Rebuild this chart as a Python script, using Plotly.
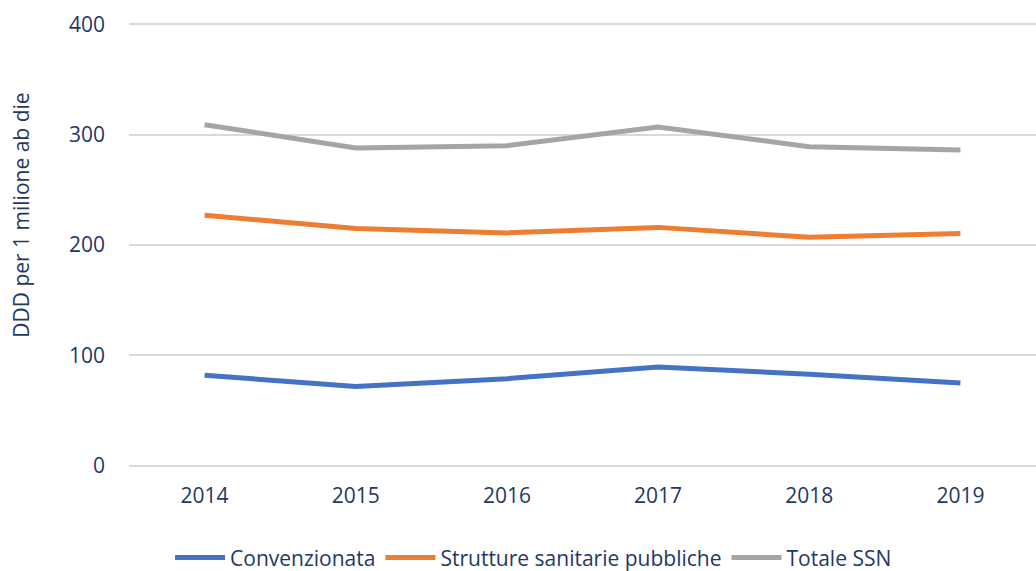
import plotly.graph_objects as go

# Data
years = ["2014", "2015", "2016", "2017", "2018", "2019"]
convenzionata = [82, 72, 79, 89.5, 83, 75]
strutture = [227, 215, 211, 216, 207, 210.5]
totale_ssn = [309, 288, 290, 307, 289, 286]

series_names = ["Convenzionata", "Strutture sanitarie pubbliche", "Totale SSN"]
series_colors = ["#4472C4", "#ED7D31", "#A5A5A5"]
y_title = "DDD per 1 milione ab die"

text_color = "#1F3864"
font_family = "Open Sans, Noto Sans, sans-serif"

fig = go.Figure()

for name, vals, color in zip(series_names, [convenzionata, strutture, totale_ssn], series_colors):
    fig.add_trace(go.Scatter(
        x=years, y=vals, mode="lines", name=name,
        line=dict(color=color, width=5),
    ))

fig.update_layout(
    width=1036, height=571,
    margin=dict(l=129, r=0, t=22, b=104),
    paper_bgcolor="white", plot_bgcolor="white",
    font=dict(family=font_family, color=text_color, size=20),
    showlegend=True,
    legend=dict(
        orientation="h", x=0.515, xref="container", xanchor="center",
        y=0.023, yref="container", yanchor="middle",
        font=dict(size=21, color=text_color), itemwidth=50,
        traceorder="normal", tracegroupgap=0,
    ),
)

# axis title placed as annotation so it sits slightly above the plot centre, as in the original
fig.add_annotation(
    text=y_title, textangle=-90, showarrow=False,
    xref="paper", yref="paper", x=-0.12, y=0.565,
    xanchor="center", yanchor="middle",
    font=dict(size=21, color=text_color),
)

fig.update_xaxes(
    type="category", range=[-0.5, 5.5], automargin=False,
    showgrid=False, zeroline=False, showline=False,
    ticks="", ticklabelstandoff=14,
    tickfont=dict(size=21, color=text_color),
)

fig.update_yaxes(
    range=[-1, 402], tickvals=[0, 100, 200, 300, 400], automargin=False,
    showgrid=True, gridcolor="#D9D9D9", gridwidth=1.5,
    zeroline=False, showline=False, ticks="", ticklabelstandoff=23,
    tickfont=dict(size=21, color=text_color),
)

# drop the page's default body margin so the figure sits at the window origin
fig.write_html("out.html", config={"displayModeBar": False},
               post_script="document.body.style.margin='0';")
